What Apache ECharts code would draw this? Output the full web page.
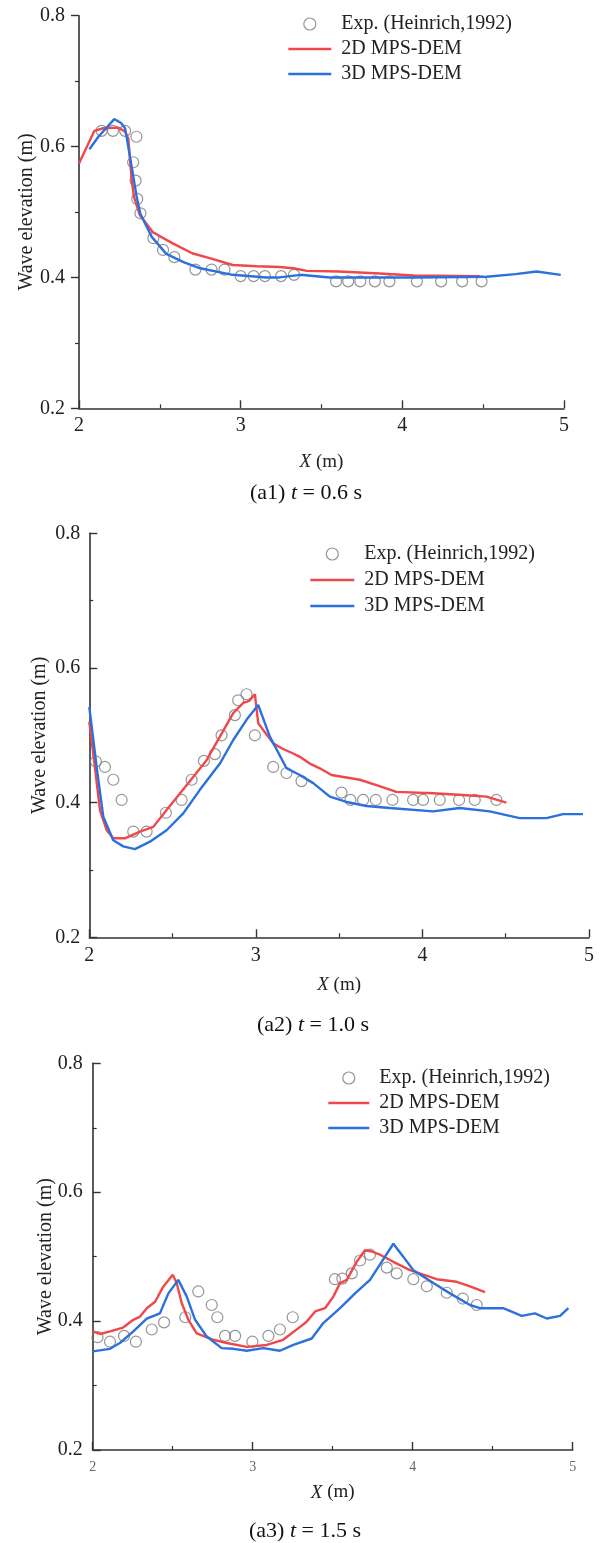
<!DOCTYPE html>
<html><head><meta charset="utf-8">
<script src="https://cdn.jsdelivr.net/npm/echarts@6/dist/echarts.min.js"></script>
<style>html,body{margin:0;padding:0;background:#fff}#c{width:604px;height:1543px}</style>
</head><body><div id="c"></div>
<script>
// ---- Data ----
const seriesNames = ['Exp. (Heinrich,1992)', '2D MPS-DEM', '3D MPS-DEM'];
const captions = [['(a1) ', '0.6'], ['(a2) ', '1.0'], ['(a3) ', '1.5']];
const xTicks = [2, 3, 4, 5];
const yTicks = [0.2, 0.4, 0.6, 0.8];

const exp1 = [[2.14,0.624],[2.21,0.624],[2.285,0.624],[2.355,0.615],[2.335,0.576],[2.35,0.548],[2.36,0.52],[2.38,0.498],[2.46,0.46],[2.52,0.442],[2.59,0.431],[2.72,0.412],[2.82,0.412],[2.90,0.412],[3.00,0.402],[3.08,0.402],[3.15,0.402],[3.25,0.402],[3.33,0.404],[3.59,0.394],[3.665,0.394],[3.74,0.394],[3.83,0.394],[3.92,0.394],[4.09,0.394],[4.24,0.394],[4.37,0.394],[4.49,0.394]];
const red1 = [[2.0,0.574],[2.095,0.624],[2.15,0.628],[2.243,0.629],[2.285,0.623],[2.305,0.612],[2.326,0.549],[2.34,0.523],[2.377,0.495],[2.457,0.469],[2.58,0.452],[2.70,0.437],[2.83,0.428],[2.95,0.419],[3.1,0.417],[3.24,0.416],[3.325,0.414],[3.41,0.410],[3.61,0.409],[3.86,0.406],[4.07,0.403],[4.48,0.402]];
const blue1 = [[2.064,0.596],[2.12,0.615],[2.218,0.642],[2.26,0.636],[2.285,0.628],[2.315,0.585],[2.357,0.523],[2.38,0.497],[2.45,0.462],[2.54,0.436],[2.65,0.423],[2.75,0.414],[2.95,0.404],[3.16,0.400],[3.24,0.400],[3.37,0.404],[3.55,0.400],[4.07,0.400],[4.52,0.401],[4.7,0.405],[4.83,0.409],[4.98,0.404]];

const exp2 = [[2.04,0.461],[2.094,0.453],[2.144,0.434],[2.194,0.404],[2.264,0.357],[2.344,0.357],[2.46,0.385],[2.554,0.404],[2.614,0.434],[2.688,0.462],[2.754,0.472],[2.794,0.50],[2.874,0.530],[2.894,0.552],[2.944,0.561],[2.994,0.50],[3.104,0.453],[3.184,0.444],[3.274,0.432],[3.514,0.415],[3.568,0.404],[3.644,0.404],[3.72,0.404],[3.82,0.404],[3.944,0.404],[4.004,0.404],[4.104,0.404],[4.22,0.404],[4.314,0.404],[4.444,0.404]];
const red2 = [[2.0,0.52],[2.03,0.46],[2.064,0.389],[2.104,0.359],[2.144,0.347],[2.214,0.347],[2.304,0.357],[2.384,0.364],[2.464,0.389],[2.584,0.426],[2.704,0.463],[2.784,0.498],[2.864,0.533],[2.924,0.548],[2.96,0.551],[2.994,0.561],[3.014,0.518],[3.104,0.488],[3.16,0.48],[3.224,0.473],[3.264,0.468],[3.324,0.458],[3.384,0.451],[3.454,0.441],[3.624,0.434],[3.724,0.426],[3.844,0.416],[4.064,0.414],[4.264,0.411],[4.384,0.409],[4.504,0.400]];
const blue2 = [[2.0,0.542],[2.044,0.453],[2.084,0.379],[2.144,0.344],[2.204,0.335],[2.274,0.331],[2.364,0.342],[2.464,0.359],[2.564,0.384],[2.664,0.419],[2.784,0.458],[2.864,0.493],[2.944,0.523],[3.014,0.545],[3.084,0.498],[3.184,0.451],[3.264,0.441],[3.344,0.429],[3.444,0.409],[3.544,0.401],[3.664,0.395],[3.804,0.392],[4.064,0.387],[4.224,0.392],[4.404,0.387],[4.584,0.377],[4.744,0.377],[4.844,0.383],[4.964,0.383]];

const exp3 = [[2.03,0.375],[2.108,0.368],[2.196,0.377],[2.27,0.368],[2.369,0.387],[2.446,0.398],[2.579,0.406],[2.66,0.446],[2.744,0.425],[2.779,0.406],[2.827,0.377],[2.89,0.377],[2.998,0.368],[3.098,0.377],[3.17,0.387],[3.25,0.406],[3.514,0.465],[3.56,0.466],[3.619,0.474],[3.671,0.494],[3.733,0.503],[3.838,0.483],[3.9,0.474],[4.004,0.465],[4.088,0.454],[4.213,0.444],[4.313,0.435],[4.4,0.425]];
const red3 = [[2.0,0.384],[2.046,0.38],[2.108,0.384],[2.19,0.39],[2.254,0.402],[2.296,0.407],[2.338,0.42],[2.39,0.43],[2.44,0.453],[2.50,0.472],[2.525,0.459],[2.556,0.428],[2.598,0.402],[2.65,0.381],[2.754,0.371],[2.838,0.366],[2.963,0.36],[3.088,0.363],[3.19,0.371],[3.296,0.391],[3.337,0.399],[3.39,0.415],[3.452,0.42],[3.504,0.438],[3.546,0.459],[3.588,0.464],[3.65,0.492],[3.702,0.51],[3.744,0.508],[3.796,0.503],[3.879,0.492],[3.983,0.479],[4.066,0.472],[4.15,0.465],[4.275,0.461],[4.358,0.454],[4.452,0.445]];
const blue3 = [[2.0,0.353],[2.108,0.357],[2.17,0.366],[2.254,0.384],[2.338,0.404],[2.42,0.412],[2.473,0.443],[2.535,0.464],[2.588,0.438],[2.64,0.402],[2.713,0.376],[2.806,0.358],[2.88,0.357],[2.963,0.354],[3.066,0.358],[3.17,0.354],[3.254,0.363],[3.369,0.373],[3.441,0.397],[3.546,0.42],[3.64,0.443],[3.733,0.464],[3.806,0.492],[3.879,0.52],[3.941,0.5],[4.004,0.479],[4.129,0.459],[4.233,0.443],[4.358,0.425],[4.42,0.42],[4.566,0.42],[4.681,0.408],[4.764,0.412],[4.838,0.404],[4.921,0.408],[4.973,0.42]];

const panels = [
  {exp: exp1, red: red1, blue: blue1},
  {exp: exp2, red: red2, blue: blue2},
  {exp: exp3, red: red3, blue: blue3}
];

// ---- Layout / style ----
const FONT = '"Liberation Serif","Times New Roman",serif';
const RED = '#f0474b', BLUE = '#2b70dd', GRAY = '#7a7a7a', AX = '#333';
const layout = [
  {left: 79, top: 15.7, width: 485, height: 392.6, yTickInside: false, yMargin: 14, xMargin: 7, xFont: 20, xColor: '#222', xGap: 44, yGap: 42,
   legend: {left: 287, top: 14, w: 43, gap: 5}, cap: {x: 306, y: 493}},
  {left: 89.3, top: 533.3, width: 499.7, height: 404, yTickInside: true, yMargin: 9, xMargin: 8, xFont: 20, xColor: '#222', xGap: 38, yGap: 40,
   legend: {left: 309, top: 544, w: 44, gap: 6}, cap: {x: 313, y: 1025}},
  {left: 92.7, top: 1063.3, width: 480, height: 386.7, yTickInside: true, yMargin: 10, xMargin: 10, xFont: 14, xColor: '#666', xGap: 33, yGap: 37,
   legend: {left: 327, top: 1068, w: 41, gap: 5}, cap: {x: 305, y: 1531}}
];

const noSym = {color: 'rgba(0,0,0,0)', borderWidth: 0, opacity: 0};
const grid = [], xAxis = [], yAxis = [], series = [], legend = [], graphic = [];
layout.forEach((L, i) => {
  grid.push({left: L.left, top: L.top, width: L.width, height: L.height, containLabel: false});
  xAxis.push({
    type: 'value', gridIndex: i, min: xTicks[0], max: xTicks[xTicks.length - 1], interval: 1,
    name: '{i|X} (m)', nameLocation: 'middle', nameGap: L.xGap, nameMoveOverlap: false,
    nameTextStyle: {fontFamily: FONT, fontSize: 19, color: '#222', rich: {i: {fontFamily: FONT, fontSize: 19, fontStyle: 'italic', color: '#222'}}},
    axisLine: {show: true, onZero: false, lineStyle: {color: AX, width: 1.6}},
    axisTick: {show: true, inside: true, length: 8, lineStyle: {color: AX, width: 1.4}},
    minorTick: {show: true, splitNumber: 2, length: 4, lineStyle: {color: AX, width: 1.2}},
    axisLabel: {fontFamily: FONT, fontSize: L.xFont, color: L.xColor, margin: L.xMargin},
    splitLine: {show: false}
  });
  yAxis.push({
    type: 'value', gridIndex: i, min: yTicks[0], max: yTicks[yTicks.length - 1], interval: 0.2,
    name: 'Wave elevation (m)', nameLocation: 'middle', nameGap: L.yGap, nameRotate: 90, nameMoveOverlap: false,
    nameTextStyle: {fontFamily: FONT, fontSize: 20, color: '#222'},
    axisLine: {show: true, onZero: false, lineStyle: {color: AX, width: 1.6}},
    axisTick: {show: true, inside: L.yTickInside, length: 8, lineStyle: {color: AX, width: 1.4}},
    minorTick: {show: true, splitNumber: 2, length: 4, lineStyle: {color: AX, width: 1.2}},
    axisLabel: {fontFamily: FONT, fontSize: 20, color: '#222', margin: L.yMargin, formatter: v => v.toFixed(1)},
    splitLine: {show: false}
  });
  const P = panels[i];
  series.push({
    name: seriesNames[0], type: 'scatter', xAxisIndex: i, yAxisIndex: i, data: P.exp,
    symbol: 'circle', symbolSize: 11,
    itemStyle: {color: 'rgba(255,255,255,0)', borderColor: GRAY, borderWidth: 1.2}, z: 2
  });
  series.push({
    name: seriesNames[1], type: 'line', xAxisIndex: i, yAxisIndex: i, data: P.red,
    symbol: 'none', lineStyle: {color: RED, width: 2.4}, itemStyle: {color: RED}, z: 3
  });
  series.push({
    name: seriesNames[2], type: 'line', xAxisIndex: i, yAxisIndex: i, data: P.blue,
    symbol: 'none', lineStyle: {color: BLUE, width: 2.4}, itemStyle: {color: BLUE}, z: 4
  });
  legend.push({
    orient: 'vertical', left: L.legend.left, top: L.legend.top, padding: 0,
    itemWidth: L.legend.w, itemHeight: 12, itemGap: L.legend.gap, selectedMode: false,
    textStyle: {fontFamily: FONT, fontSize: 20, color: '#222', lineHeight: 20, padding: [0, 0, 0, 5]},
    data: [
      {name: seriesNames[0], icon: 'circle', itemStyle: {color: 'rgba(255,255,255,0)', borderColor: GRAY, borderWidth: 1.2}},
      {name: seriesNames[1], itemStyle: noSym, lineStyle: {color: RED, width: 2.6}},
      {name: seriesNames[2], itemStyle: noSym, lineStyle: {color: BLUE, width: 2.6}}
    ]
  });
  graphic.push({
    type: 'text', x: L.cap.x, y: L.cap.y,
    style: {
      text: '{n|' + captions[i][0] + '}{i|t}{n| = ' + captions[i][1] + ' s}',
      align: 'center', verticalAlign: 'middle',
      rich: {
        n: {fontFamily: FONT, fontSize: 22, fill: '#111'},
        i: {fontFamily: FONT, fontSize: 22, fontStyle: 'italic', fill: '#111'}
      }
    }
  });
});

const chart = echarts.init(document.getElementById('c'), null, {renderer: 'canvas'});
chart.setOption({animation: false, backgroundColor: '#fff', grid, xAxis, yAxis, series, legend, graphic});
</script>
</body></html>
